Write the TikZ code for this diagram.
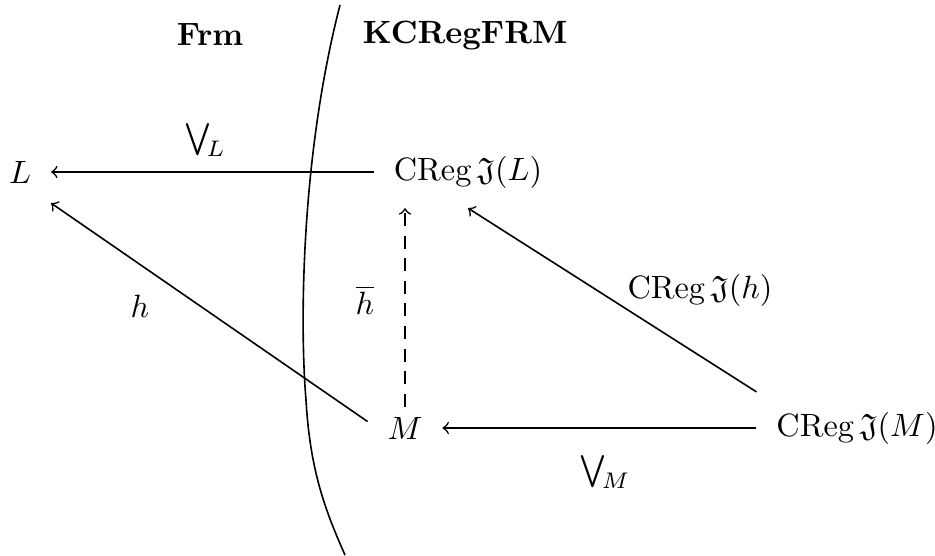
\documentclass[tikz,border=0pt]{standalone}
\usepackage{amssymb}
\begin{document}
\begin{tikzpicture}[x=0.31pt,y=-0.31pt,
  obj/.style={inner sep=6pt},
  arr/.style={->,line width=0.5pt},
  lbl/.style={inner sep=0pt}]
\useasboundingbox (0,0) rectangle (935,555);
% category labels
\node[lbl] (frm) at (210,35) {\textbf{Frm}};
\node[lbl] (kcr) at (465,35) {\textbf{KCRegFRM}};
% separating curve
\draw[line width=0.5pt] (340,5) .. controls (300,160) and (300,330) .. (306,400)
  .. controls (310,470) and (325,510) .. (345,555);
% objects
\node[obj] (L) at (20,172) {$L$};
\node[obj] (cl) at (468,172) {$\mathrm{CReg}\,\mathfrak{J}(L)$};
\node[obj] (M) at (405,428) {$M$};
\node[obj] (cm) at (857,428) {$\mathrm{CReg}\,\mathfrak{J}(M)$};
% arrows
\draw[arr] (cl.west) -- (L.east);
\draw[arr] (cm.west) -- (M.east);
\draw[arr] ([yshift=2pt]M.west) -- (L.south east);
\draw[arr] (cm.north west) -- (cl.south);
\draw[arr,dashed,dash pattern=on 4pt off 3pt] ([yshift=-3pt]M.north) -- (M.north |- cl.south);
% labels
\node[lbl] (vl) at (205,140) {$\bigvee_{\!L}$};
\node[lbl] (vm) at (605,472) {$\bigvee_{\!M}$};
\node[lbl] (hl) at (140,306) {$h$};
\node[lbl] (hb) at (365,300) {$\overline{h}$};
\node[lbl] (ch) at (700,290) {$\mathrm{CReg}\,\mathfrak{J}(h)$};
\end{tikzpicture}
\end{document}
